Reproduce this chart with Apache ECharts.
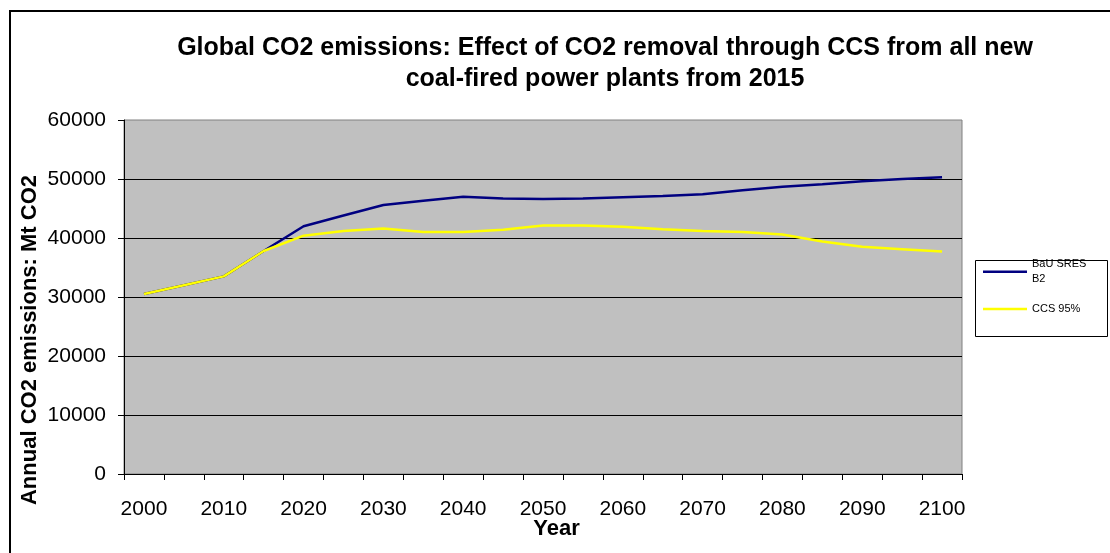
<!DOCTYPE html>
<html>
<head>
<meta charset="utf-8">
<script src="https://cdn.jsdelivr.net/npm/echarts@6/dist/echarts.min.js"></script>
<style>
html, body { margin: 0; padding: 0; background: #fff; }
#chart { width: 1110px; height: 553px; }
</style>
</head>
<body>
<div id="chart"></div>
<script>
var titleText = 'Global CO2 emissions: Effect of CO2 removal through CCS from all new\ncoal-fired power plants from 2015';
var xAxisName = 'Year';
var yAxisName = 'Annual CO2 emissions: Mt CO2';
var years = ['2000','2005','2010','2015','2020','2025','2030','2035','2040','2045','2050',
             '2055','2060','2065','2070','2075','2080','2085','2090','2095','2100'];
var seriesNames = ['BaU SRES B2', 'CCS 95%'];
var bauValues = [30500, 32000, 33500, 37800, 42000, 43800, 45600, 46300, 47000, 46700, 46600,
                 46700, 46900, 47100, 47400, 48100, 48700, 49100, 49600, 50000, 50300];
var ccsValues = [30500, 32000, 33500, 37800, 40400, 41200, 41600, 41000, 41000, 41400, 42100,
                 42100, 41900, 41500, 41200, 41000, 40600, 39400, 38500, 38100, 37700];
var yMin = 0, yMax = 60000, yStep = 10000;

var FONT = "'Liberation Sans', Arial, sans-serif";
var chart = echarts.init(document.getElementById('chart'), null, { renderer: 'canvas' });
chart.setOption({
  animation: false,
  backgroundColor: '#ffffff',
  title: {
    text: titleText,
    left: 605,
    top: 33,
    padding: 0,
    textAlign: 'center',
    textStyle: { fontFamily: FONT, fontSize: 25, fontWeight: 'bold', color: '#000', lineHeight: 31 }
  },
  graphic: [
    { type: 'rect', z: 0, silent: true, shape: { x: 10, y: 11, width: 1200, height: 700 },
      style: { fill: 'none', stroke: '#000', lineWidth: 2 } },
    { type: 'rect', z: 0, silent: true, shape: { x: 975.5, y: 260.5, width: 132, height: 76 },
      style: { fill: 'none', stroke: '#000', lineWidth: 1 } }
  ],
  legend: {
    orient: 'vertical',
    left: 983,
    top: 249.2,
    padding: 0,
    itemGap: 7.3,
    itemWidth: 44,
    itemHeight: 2.5,
    icon: 'rect',
    formatter: function (n) { return n === 'BaU SRES B2' ? 'BaU SRES\nB2' : n; },
    textStyle: { fontFamily: FONT, fontSize: 11, color: '#000', lineHeight: 15 },
    data: [
      { name: seriesNames[0], textStyle: { padding: [15, 0, 0, 0] } },
      { name: seriesNames[1] }
    ]
  },
  grid: {
    left: 124, right: 148, top: 120, bottom: 79,
    show: true, backgroundColor: '#c0c0c0', borderColor: '#808080', borderWidth: 1,
    containLabel: false
  },
  xAxis: {
    type: 'category',
    data: years,
    boundaryGap: true,
    name: xAxisName,
    nameLocation: 'middle',
    nameGap: 44,
    nameMoveOverlap: false,
    nameTextStyle: { fontFamily: FONT, fontSize: 22, fontWeight: 'bold', color: '#000', padding: [0, 0, 0, 27] },
    axisLine: { show: true, lineStyle: { color: '#000', width: 1 } },
    axisTick: { show: true, interval: 0, length: 6, inside: false, alignWithLabel: false, lineStyle: { color: '#000' } },
    axisLabel: { interval: 1, margin: 25, fontFamily: FONT, fontSize: 21, color: '#000' },
    splitLine: { show: false }
  },
  yAxis: {
    type: 'value',
    min: yMin, max: yMax, interval: yStep,
    name: yAxisName,
    nameLocation: 'middle',
    nameGap: 83,
    nameMoveOverlap: false,
    nameTextStyle: { fontFamily: FONT, fontSize: 22, fontWeight: 'bold', color: '#000', padding: [0, 86, 0, 0] },
    axisLine: { show: true, lineStyle: { color: '#000', width: 1 } },
    axisTick: { show: true, length: 6, inside: false, lineStyle: { color: '#000' } },
    axisLabel: { margin: 18, fontFamily: FONT, fontSize: 21, color: '#000',
                 formatter: function (v) { return String(v); } },
    splitLine: { show: true, showMinLine: false, showMaxLine: false, lineStyle: { color: '#000', width: 1 } }
  },
  series: [
    { name: seriesNames[0], type: 'line', data: bauValues, symbol: 'none', smooth: false,
      lineStyle: { color: '#000080', width: 2.5 }, itemStyle: { color: '#000080' }, z: 2 },
    { name: seriesNames[1], type: 'line', data: ccsValues, symbol: 'none', smooth: false,
      lineStyle: { color: '#ffff00', width: 2.5 }, itemStyle: { color: '#ffff00' }, z: 3 }
  ]
});
</script>
</body>
</html>
